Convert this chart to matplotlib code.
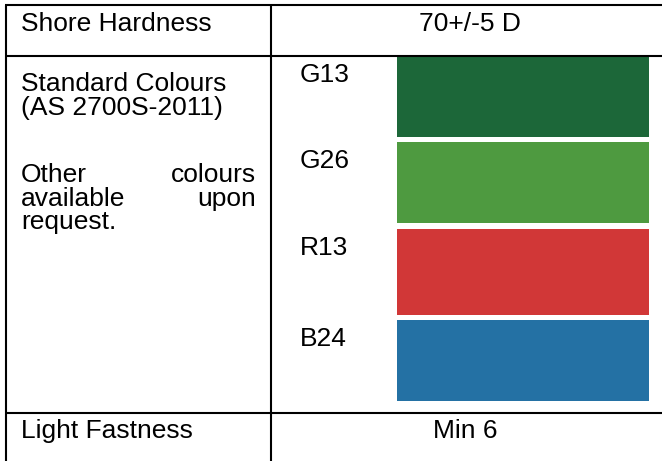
"""
Shore hardness / colour spec table, redrawn with matplotlib.
Whole figure is one axes in pixel units (y pointing down).
"""

import matplotlib.pyplot as plt
from matplotlib.patches import Rectangle

plt.rcParams["font.family"] = ["Liberation Sans", "DejaVu Sans"]

W, H = 662, 461
FONT_SIZE = 19
LINE_W = 1.5

# table content
ROW_LABELS = ["Shore Hardness", "Light Fastness"]
ROW_VALUES = ["70+/-5 D", "Min 6"]
COLOUR_HEADING = ["Standard Colours", "(AS 2700S-2011)"]
COLOUR_NOTE = [("Other", "colours"), ("available", "upon"), ("request.", "")]
SWATCH_CODES = ["G13", "G26", "R13", "B24"]
SWATCH_COLOURS = ["#1c6739", "#4e9a40", "#d13737", "#2471a4"]

# layout (pixels)
LEFT, DIVIDER, RIGHT = 6, 271, 662
ROW_LINES = [5, 56, 413]
TEXT_X = 21
JUSTIFY_RIGHT = 256
SWATCH_X0, SWATCH_X1 = 397, 649
SWATCH_TOP = [56, 142, 229, 320]
SWATCH_H = [81, 81, 86, 81]


def main():
    fig = plt.figure(figsize=(W / 100, H / 100), dpi=100)
    ax = fig.add_axes([0, 0, 1, 1])
    ax.set_xlim(0, W)
    ax.set_ylim(H, 0)
    ax.axis("off")

    # grid lines
    for y in ROW_LINES:
        ax.plot([LEFT - 1, RIGHT], [y, y], color="black", lw=LINE_W,
                solid_capstyle="butt")
    for x in (LEFT, DIVIDER):
        ax.plot([x, x], [ROW_LINES[0], H], color="black", lw=LINE_W,
                solid_capstyle="butt")

    txt = dict(fontsize=FONT_SIZE, color="black", va="baseline")

    # first and last rows
    ax.text(TEXT_X, 31, ROW_LABELS[0], ha="left", **txt)
    ax.text(470, 31, ROW_VALUES[0], ha="center", **txt)
    ax.text(TEXT_X, 438, ROW_LABELS[1], ha="left", **txt)
    ax.text(465, 438, ROW_VALUES[1], ha="center", **txt)

    # colour row, left cell
    for i, line in enumerate(COLOUR_HEADING):
        ax.text(TEXT_X, 91 + 24 * i, line, ha="left", **txt)
    for i, (left_word, right_word) in enumerate(COLOUR_NOTE):
        y = 182 + 23.5 * i
        ax.text(TEXT_X, y, left_word, ha="left", **txt)
        if right_word:
            ax.text(JUSTIFY_RIGHT, y, right_word, ha="right", **txt)

    # colour swatches
    for code, colour, top, h in zip(SWATCH_CODES, SWATCH_COLOURS,
                                    SWATCH_TOP, SWATCH_H):
        ax.add_patch(Rectangle((SWATCH_X0, top), SWATCH_X1 - SWATCH_X0, h,
                               facecolor=colour, edgecolor="none"))
        ax.text(300, top + 26, code, ha="left", **txt)

    fig.savefig("out.png", dpi=100)
    plt.close(fig)


if __name__ == "__main__":
    main()
